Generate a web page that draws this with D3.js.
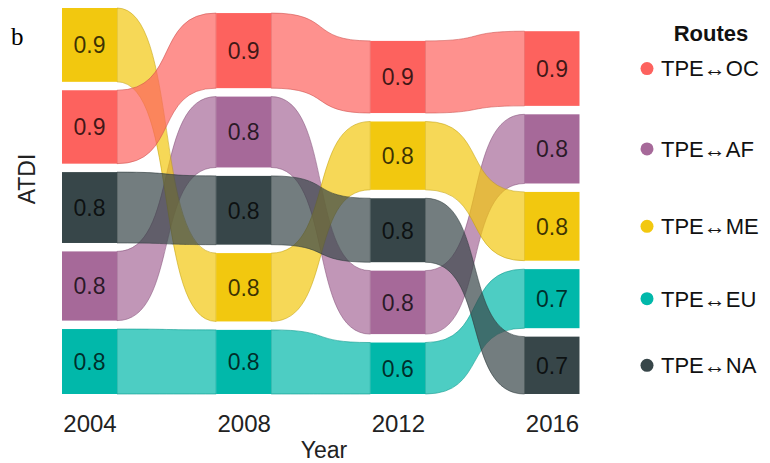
<!DOCTYPE html>
<html>
<head>
<meta charset="utf-8">
<script src="https://cdn.jsdelivr.net/npm/d3@7"></script>
<style>
  html, body { margin: 0; padding: 0; background: #fff; }
  svg { display: block; font-family: "Liberation Sans", Arial, sans-serif; }
</style>
</head>
<body>
<svg id="chart" width="770" height="463"></svg>
<script>
// Air travel ATDI by route, 2004–2016
const years = [2004, 2008, 2012, 2016];
const routes = ["TPE↔OC", "TPE↔AF", "TPE↔ME", "TPE↔EU", "TPE↔NA"];
const valuesOC = [0.87, 0.89, 0.855, 0.885];
const valuesAF = [0.82, 0.84, 0.752, 0.82];
const valuesME = [0.875, 0.81, 0.81, 0.815];
const valuesEU = [0.77, 0.76, 0.61, 0.70];
const valuesNA = [0.84, 0.815, 0.758, 0.68];
const colors = ["#FD625E", "#A66999", "#F2C80F", "#01B8AA", "#374649"];

const seriesValues = [valuesOC, valuesAF, valuesME, valuesEU, valuesNA];
const gap = 0.1;          // spacing between strata, in value units
const stratumWidth = 55;
const knot = 0.63;        // flow curve control-point position

// Stack each year: largest value on top, smallest at the bottom
const stacks = years.map((yr, j) => {
  const order = routes.map((r, i) => i).sort((a, b) => seriesValues[a][j] - seriesValues[b][j]);
  const pos = {};
  let acc = 0;
  order.forEach((i, k) => {
    if (k > 0) acc += gap;
    pos[i] = { y0: acc, y1: acc + seriesValues[i][j], v: seriesValues[i][j] };
    acc += seriesValues[i][j];
  });
  return { total: acc, pos };
});
const maxTotal = d3.max(stacks, s => s.total);

const svg = d3.select("#chart");
const x = d3.scalePoint().domain(years).range([89.5, 552]);
const y = d3.scaleLinear().domain([0, maxTotal]).range([394, 8]);
const fmt = d3.format(".1f");

function ribbon(xa, ta, ba, xb, tb, bb) {
  const dx = xb - xa;
  return `M${xa},${ta}C${xa + knot * dx},${ta} ${xb - knot * dx},${tb} ${xb},${tb}` +
         `L${xb},${bb}C${xb - knot * dx},${bb} ${xa + knot * dx},${ba} ${xa},${ba}Z`;
}

// Flows between consecutive years
const flowLayer = svg.append("g");
const flowData = [];
[3, 1, 2, 0, 4].forEach(i => {
  for (let j = 0; j < years.length - 1; j++) {
    flowData.push({ i, j });
  }
});
flowLayer.selectAll("path").data(flowData).join("path")
  .attr("d", d => {
    const a = stacks[d.j].pos[d.i], b = stacks[d.j + 1].pos[d.i];
    return ribbon(x(years[d.j]) + stratumWidth / 2, y(a.y1), y(a.y0),
                  x(years[d.j + 1]) - stratumWidth / 2, y(b.y1), y(b.y0));
  })
  .attr("fill", d => colors[d.i])
  .attr("fill-opacity", 0.7)
  .attr("stroke", d => d3.color(colors[d.i]).darker(0.6))
  .attr("stroke-opacity", 0.7)
  .attr("stroke-width", 0.8);

// Strata
const cells = [];
years.forEach((yr, j) => routes.forEach((r, i) => cells.push({ i, j, ...stacks[j].pos[i] })));
const strata = svg.append("g");
strata.selectAll("rect").data(cells).join("rect")
  .attr("x", d => x(years[d.j]) - stratumWidth / 2)
  .attr("width", stratumWidth)
  .attr("y", d => y(d.y1))
  .attr("height", d => y(d.y0) - y(d.y1))
  .attr("fill", d => colors[d.i]);
strata.selectAll("text").data(cells).join("text")
  .attr("x", d => x(years[d.j]))
  .attr("y", d => (y(d.y0) + y(d.y1)) / 2)
  .attr("dy", "0.36em")
  .attr("text-anchor", "middle")
  .attr("font-size", 23)
  .attr("fill", "#000")
  .attr("fill-opacity", 0.75)
  .text(d => fmt(d.v));

// Year axis
const xAxis = svg.append("g")
  .attr("transform", "translate(0,406)")
  .call(d3.axisBottom(x).tickSize(0).tickPadding(0));
xAxis.select(".domain").remove();
xAxis.selectAll("text")
  .style("font-family", "Liberation Sans, Arial, sans-serif")
  .attr("font-size", 24)
  .attr("fill", "#222")
  .attr("dy", "1.1em");

svg.append("text")
  .attr("x", 324).attr("y", 458)
  .attr("text-anchor", "middle")
  .attr("font-size", 23).attr("fill", "#222")
  .text("Year");

svg.append("text")
  .attr("transform", "translate(35,179) rotate(-90)")
  .attr("text-anchor", "middle")
  .attr("font-size", 23).attr("fill", "#222")
  .text("ATDI");

svg.append("text")
  .attr("x", 11).attr("y", 45)
  .style("font-family", "'Liberation Serif', 'Times New Roman', serif")
  .attr("font-size", 25).attr("fill", "#000")
  .text("b");

// Legend, aligned with the 2016 strata
const legend = svg.append("g");
legend.append("text")
  .attr("x", 711).attr("y", 41)
  .attr("text-anchor", "middle")
  .attr("font-size", 22).attr("font-weight", "bold").attr("fill", "#111")
  .text("Routes");
const last = stacks[years.length - 1].pos;
const items = legend.selectAll("g.item").data(routes).join("g")
  .attr("class", "item")
  .attr("transform", (r, i) => `translate(647,${(y(last[i].y0) + y(last[i].y1)) / 2})`);
items.append("circle").attr("r", 6.5).attr("fill", (r, i) => colors[i]);
items.append("text")
  .attr("x", 14).attr("dy", "0.36em")
  .attr("font-size", 22).attr("fill", "#111")
  .text(r => r);
</script>
</body>
</html>
